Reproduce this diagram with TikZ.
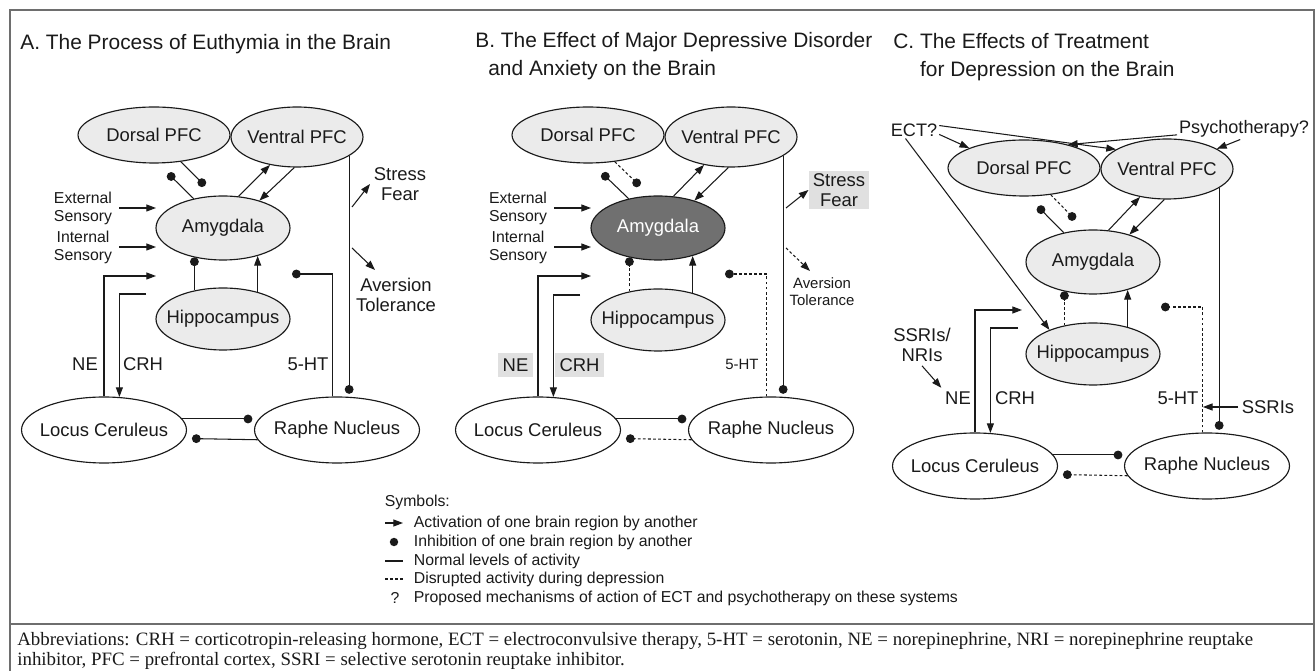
\documentclass[tikz,border=0pt]{standalone}
\usepackage{fontspec}
\setmainfont{Liberation Sans}
\newfontfamily\abbrfont{Liberation Serif}
\usetikzlibrary{arrows.meta, shapes.geometric}

\definecolor{ink}{HTML}{1A1A1A}
\definecolor{regfill}{HTML}{EBEBEB}
\definecolor{amydark}{HTML}{707070}
\definecolor{hlbox}{HTML}{E0E0E0}
\definecolor{framegray}{HTML}{6E6E6E}

\newcommand{\ttlfont}{\fontsize{11.9}{16.2}\selectfont}
\newcommand{\regfont}{\fontsize{10.5}{11.6}\selectfont}
\newcommand{\cuefont}{\fontsize{10.3}{11}\selectfont}
\newcommand{\sensfont}{\fontsize{9}{10.2}\selectfont}
\newcommand{\tinyfont}{\fontsize{8.5}{9.6}\selectfont}
\newcommand{\rgtext}[1]{\makebox[0pt]{#1}}

\tikzset{
  region/.style={ellipse, draw=ink, line width=0.65pt, fill=regfill, inner sep=0pt, font=\regfont, text=ink},
  dorsal/.style={region, minimum width=3.04cm, minimum height=1.12cm},
  ventral/.style={region, minimum width=2.64cm, minimum height=1.2cm},
  amyg/.style={region, minimum width=2.68cm, minimum height=1.28cm},
  hippo/.style={region, minimum width=2.68cm, minimum height=1.24cm},
  stem/.style={region, fill=white, minimum width=3.3cm, minimum height=1.32cm},
  lbl/.style={font=\regfont, text=ink, align=center, inner sep=2pt},
  sens/.style={lbl, font=\sensfont, inner xsep=4pt},
  smalllbl/.style={lbl, font=\tinyfont},
  cue/.style={lbl, font=\cuefont, inner sep=1pt},
  hilite/.style={fill=hlbox, inner xsep=2.7pt, inner ysep=3pt},
  paneltitle/.style={font=\ttlfont, text=ink, align=left, anchor=north west, inner sep=0pt},
  legtext/.style={font=\sensfont, text=ink, inner sep=2pt},
  link/.style={line width=0.6pt, draw=ink},
  act/.style={link, -{Triangle[length=5.5pt, width=4pt]}},
  inh/.style={link, -{Circle[length=5pt]}},
  disrupted/.style={dash pattern=on 1.6pt off 1.3pt},
  boxline/.style={draw=framegray, line width=1.1pt},
}

\begin{document}
\begin{tikzpicture}[x=0.02cm, y=-0.02cm]
\useasboundingbox (0,0) rectangle (1316,671);

% frame
\draw[boxline] (10,671) -- (10,10) -- (1314,10) -- (1314,671);
\draw[boxline] (10,624) -- (1314,624);

% titles
\node[paneltitle] (aTitle) at (20,34) {A. The Process of Euthymia in the Brain};
\node[paneltitle] (bTitle) at (475,32) {B. The Effect of Major Depressive Disorder\\\hspace*{7.4pt}and Anxiety on the Brain};
\node[paneltitle] (cTitle) at (893,33) {C. The Effects of Treatment\\\hspace*{15.2pt}for Depression on the Brain};

% panel A: euthymia
\begin{scope}
  \node[dorsal] (aDor) at (154,135) {\rgtext{Dorsal PFC}};
  \node[ventral] (aVen) at (297,137) {\rgtext{Ventral PFC}};
  \node[amyg] (aAmy) at (223,228) {\rgtext{Amygdala}};
  \node[hippo] (aHip) at (223,319) {\rgtext{Hippocampus}};
  \node[stem] (aLoc) at (104,430) {\rgtext{Locus Ceruleus}};
  \node[stem] (aRap) at (337,430) {\rgtext{Raphe Nucleus}};
  \node[sens] (aExt) at (83,208) {External\\Sensory};
  \node[sens] (aInt) at (83,247) {Internal\\Sensory};
  \node[lbl] (aStress) at (400,184) {Stress\\Fear};
  \node[lbl] (aAver) at (396,295) {Aversion\\Tolerance};
  \node[lbl] (aNE) at (85,364) {NE};
  \node[lbl] (aCRH) at (143,364) {CRH};
  \node[lbl] (aHT) at (308,364) {5-HT};
  \coordinate (aIn) at (156,228);
  \coordinate (aNEto) at (156,276);
  \coordinate (aCRHfrom) at (146,294);
  \coordinate (aHTto) at (292,274);
  \coordinate (aStrFrom) at (352,207);
  \coordinate (aAvFrom) at (352,248);
  \coordinate (aAvTo) at (375,270);
  \draw[inh, shorten >=8pt] (aAmy.135) -- (aDor.-82);
  \draw[inh, shorten >=8pt] (aDor.-45) -- (aAmy.104);
  \draw[act] (aAmy.64) -- (aVen.-134);
  \draw[act] (aVen.-95) -- (aAmy.37);
  \draw[inh, shorten >=1.5pt] (aVen.-20) -- (aVen.-20 |- aRap.north);
  \draw[act] (aStrFrom) -- (aStress.west);
  \draw[act] (aAvFrom) -- (aAvTo);
  \draw[act] (aExt.east) -- (aExt.east -| aIn);
  \draw[act] (aInt.east) -- (aInt.east -| aIn);
  \draw[act] (aLoc.north) |- (aNEto);
  \draw[act] (aCRHfrom) -| (aLoc.65);
  \draw[inh] (aHip.135) -- (aHip.135 |- aAmy.-135);
  \draw[act] (aHip.38) -- (aHip.38 |- aAmy.-39);
  \draw[inh] (aRap.97) |- (aHTto);
  \draw[inh, shorten >=3.5pt] (aLoc.8) -- (aRap.172);
  \draw[inh, shorten >=4.3pt] (aRap.-173.6) -- (aLoc.-6.5);
\end{scope}

% panel B: depression and anxiety
\begin{scope}[shift={(434,0)}]
  \node[dorsal] (bDor) at (154,135) {\rgtext{Dorsal PFC}};
  \node[ventral] (bVen) at (297,137) {\rgtext{Ventral PFC}};
  \node[amyg, fill=amydark, text=white] (bAmy) at (224,228) {\rgtext{Amygdala}};
  \node[hippo] (bHip) at (224,320) {\rgtext{Hippocampus}};
  \node[stem] (bLoc) at (104,430) {\rgtext{Locus Ceruleus}};
  \node[stem] (bRap) at (337,430) {\rgtext{Raphe Nucleus}};
  \node[sens] (bExt) at (84,208) {External\\Sensory};
  \node[sens] (bInt) at (84,247) {Internal\\Sensory};
  \node[lbl, hilite, inner xsep=2.3pt, inner ysep=1.5pt] (bStress) at (405,190) {Stress\\Fear};
  \node[smalllbl] (bAver) at (388,292) {Aversion\\Tolerance};
  \node[lbl, hilite] (bNE) at (81.5,365) {NE};
  \node[lbl, hilite] (bCRH) at (145.5,365) {CRH};
  \node[smalllbl] (bHT) at (308,364) {5-HT};
  \coordinate (bIn) at (157,228);
  \coordinate (bNEto) at (157,276);
  \coordinate (bCRHfrom) at (146,295);
  \coordinate (bHTto) at (291,274);
  \coordinate (bStrFrom) at (352,208);
  \coordinate (bAvFrom) at (352,248);
  \coordinate (bAvTo) at (376,271);
  \draw[inh, shorten >=8pt] (bAmy.135) -- (bDor.-82);
  \draw[inh, disrupted, shorten >=8pt] (bDor.-45) -- (bAmy.104);
  \draw[act] (bAmy.64) -- (bVen.-134);
  \draw[act] (bVen.-95) -- (bAmy.37);
  \draw[inh, shorten >=1.5pt] (bVen.-20) -- (bVen.-20 |- bRap.north);
  \draw[act] (bStrFrom) -- (bStress.west);
  \draw[act, disrupted] (bAvFrom) -- (bAvTo);
  \draw[act] (bExt.east) -- (bExt.east -| bIn);
  \draw[act] (bInt.east) -- (bInt.east -| bIn);
  \draw[act] (bLoc.north) |- (bNEto);
  \draw[act] (bCRHfrom) -| (bLoc.65);
  \draw[inh, disrupted] (bHip.135) -- (bHip.135 |- bAmy.-135);
  \draw[act] (bHip.38) -- (bHip.38 |- bAmy.-39);
  \draw[inh, disrupted] (bRap.97) |- (bHTto);
  \draw[inh, shorten >=3.5pt] (bLoc.8) -- (bRap.172);
  \draw[inh, disrupted, shorten >=4.3pt] (bRap.-173.6) -- (bLoc.-6.5);
\end{scope}

% panel C: treatment
\begin{scope}[shift={(870,34)}]
  \node[dorsal] (cDor) at (154,134) {\rgtext{Dorsal PFC}};
  \node[ventral] (cVen) at (297,135) {\rgtext{Ventral PFC}};
  \node[amyg] (cAmy) at (223,228) {\rgtext{Amygdala}};
  \node[hippo] (cHip) at (223,320) {\rgtext{Hippocampus}};
  \node[stem] (cLoc) at (105,432) {\rgtext{Locus Ceruleus}};
  \node[stem] (cRap) at (337,432) {\rgtext{Raphe Nucleus}};
  \node[cue] (cECT) at (44,96) {ECT?};
  \node[cue, anchor=east] (cPsy) at (441,95) {Psychotherapy?};
  \node[lbl] (cSSNR) at (52,311) {SSRIs/\\NRIs};
  \node[lbl] (cSSRI) at (398,373) {SSRIs};
  \node[lbl] (cNE) at (88,364) {NE};
  \node[lbl] (cCRH) at (145,364) {CRH};
  \node[lbl] (cHT) at (308,364) {5-HT};
  \coordinate (cNEto) at (152,276);
  \coordinate (cCRHfrom) at (148,294);
  \coordinate (cHTto) at (291,273);
  \draw[act] (cECT.-10) -- (cDor.160);
  \draw[act] (cECT.10) -- (cVen.159);
  \draw[act] (cECT.-135) -- (cHip.151);
  \draw[act] (cPsy.185) -- (cDor.28);
  \draw[act] (cPsy.-110) -- (cVen.22);
  \draw[inh, shorten >=8pt] (cAmy.135) -- (cDor.-82);
  \draw[inh, disrupted, shorten >=8pt] (cDor.-45) -- (cAmy.104);
  \draw[act] (cAmy.64) -- (cVen.-134);
  \draw[act] (cVen.-95) -- (cAmy.37);
  \draw[inh, shorten >=1.5pt] (cVen.-20) -- (cVen.-20 |- cRap.north);
  \draw[act] (cLoc.north) |- (cNEto);
  \draw[act] (cCRHfrom) -| (cLoc.65);
  \draw[act] (cSSNR.south) -- (cNE.north west);
  \draw[inh, disrupted] (cHip.135) -- (cHip.135 |- cAmy.-135);
  \draw[act] (cHip.38) -- (cHip.38 |- cAmy.-39);
  \draw[inh, disrupted] (cRap.97) |- (cHTto);
  \draw[act] (cSSRI.west) -- (cSSRI.west -| cRap.97);
  \draw[inh, shorten >=3.5pt] (cLoc.8) -- (cRap.172);
  \draw[inh, disrupted, shorten >=4.3pt] (cRap.-173.6) -- (cLoc.-6.5);
\end{scope}

% legend
\node[legtext, anchor=west] (lgHead) at (381,502) {Symbols:};
\node[legtext, anchor=west] (lgAct) at (410,523) {Activation of one brain region by another};
\node[legtext, anchor=west] (lgInh) at (410,542) {Inhibition of one brain region by another};
\node[legtext, anchor=west] (lgNorm) at (410,561) {Normal levels of activity};
\node[legtext, anchor=west] (lgDis) at (410,579) {Disrupted activity during depression};
\node[legtext, anchor=west] (lgProp) at (410,598) {Proposed mechanisms of action of ECT and psychotherapy on these systems};
\node[legtext] (lgQ) at (395,598) {?};
\coordinate (lgL) at (385,0);
\coordinate (lgR) at (403,0);
\draw[act] (lgAct.west -| lgL) -- (lgAct.west -| lgR);
\fill[ink] (394,542) circle (2.4pt);
\draw[link] (lgNorm.west -| lgL) -- (lgNorm.west -| lgR);
\draw[link, disrupted] (lgDis.west -| lgL) -- (lgDis.west -| lgR);

% abbreviations
\node[anchor=north west, inner sep=0pt, align=left, text=ink, font=\abbrfont\fontsize{10.75}{11.3}\selectfont] (abbr) at (17,632)
  {Abbreviations: CRH = corticotropin-releasing hormone, ECT = electroconvulsive therapy, 5-HT = serotonin, NE = norepinephrine, NRI = norepinephrine reuptake\\
   inhibitor, PFC = prefrontal cortex, SSRI = selective serotonin reuptake inhibitor.};
\end{tikzpicture}
\end{document}
